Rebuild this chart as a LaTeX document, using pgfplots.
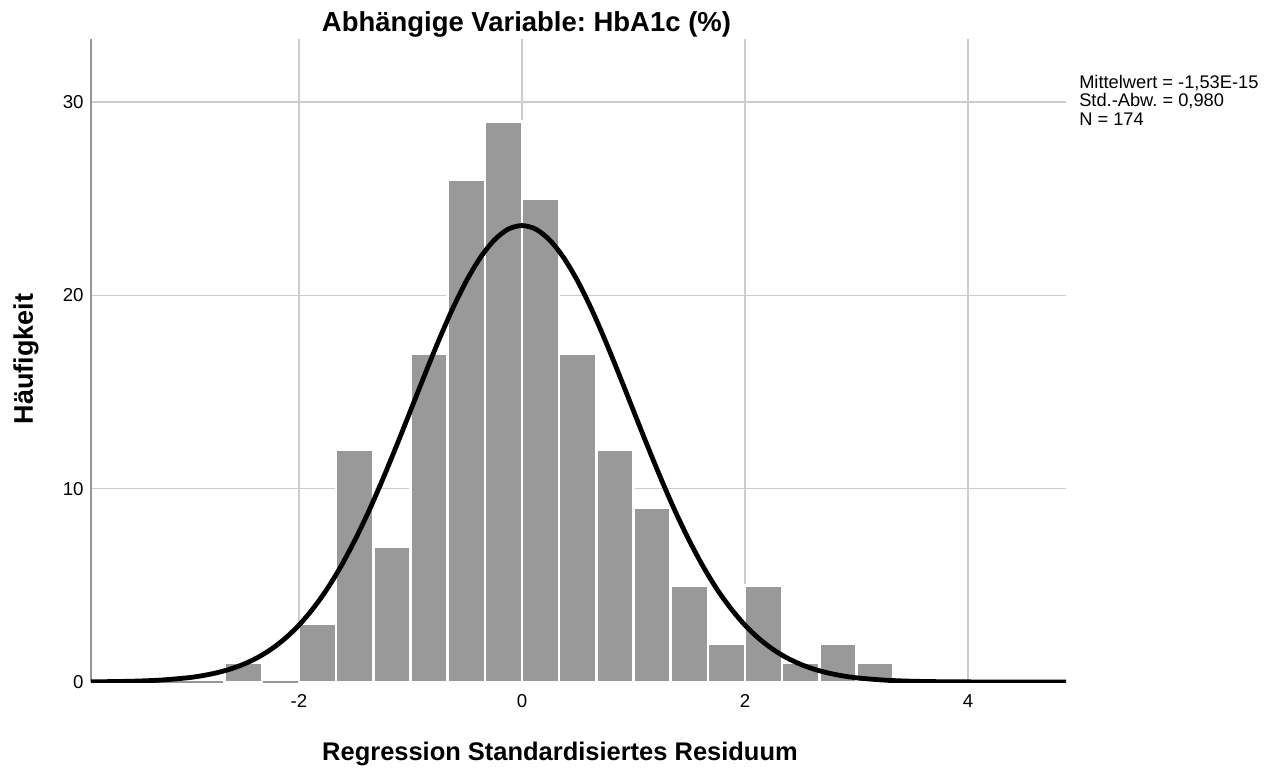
\documentclass[border=0pt]{standalone}
\usepackage{pgfplots}
\pgfplotsset{compat=1.18}
\usepackage{fontspec}
\setmainfont{Liberation Sans}
\frenchspacing
\definecolor{bargray}{RGB}{153,153,153}
\definecolor{gridgray}{RGB}{204,204,204}
\definecolor{axgray}{RGB}{150,150,150}
\begin{document}
\begin{tikzpicture}
\path[use as bounding box] (-68.25pt,-65.25pt) rectangle (887.25pt,511.5pt);
\begin{axis}[
  at={(0,0)}, anchor=south west,
  scale only axis, width=731.25pt, height=482.25pt,
  xmin=-3.865, xmax=4.879, ymin=0, ymax=33.26,
  axis x line*=bottom, axis y line*=left,
  axis line style={draw=axgray, line width=1.5pt, -},
  xtick={-2,0,2,4}, ytick={0,10,20,30},
  major tick length=0pt,
  grid=major,
  major grid style={draw=gridgray, line width=1.1pt},
  /pgf/number format/assume math mode=true,
  tick label style={font=\fontsize{14}{16}\selectfont, text=black},
  xticklabel style={yshift=-6pt},
  yticklabel style={xshift=-2pt},
  clip=true,
]
\addplot[ybar, bar width=0.33333, bar shift=0pt, fill=bargray, draw=white, line width=1.9pt] coordinates {
(-2.5,1) (-1.8333,3) (-1.5,12) (-1.1667,7) (-0.8333,17) (-0.5,26) (-0.1667,29)
(0.1667,25) (0.5,17) (0.8333,12) (1.1667,9) (1.5,5) (1.8333,2) (2.1667,5)
(2.5,1) (2.8333,2) (3.1667,1)
};
\addplot[smooth, black, line width=3.6pt] coordinates {
(-3.865,0.010) (-3.75,0.016) (-3.5,0.040) (-3.25,0.097) (-3.0,0.218)
(-2.875,0.319) (-2.75,0.461) (-2.625,0.653) (-2.5,0.912) (-2.375,1.252)
(-2.25,1.692) (-2.125,2.25) (-2.0,2.94) (-1.875,3.79) (-1.75,4.79)
(-1.625,5.97) (-1.5,7.32) (-1.375,8.82) (-1.25,10.47) (-1.125,12.22)
(-1.0,14.03) (-0.875,15.85) (-0.75,17.62) (-0.625,19.27) (-0.5,20.73)
(-0.375,21.94) (-0.25,22.85) (-0.125,23.42) (0,23.61)
(0.125,23.42) (0.25,22.85) (0.375,21.94) (0.5,20.73) (0.625,19.27)
(0.75,17.62) (0.875,15.85) (1.0,14.03) (1.125,12.22) (1.25,10.47)
(1.375,8.82) (1.5,7.32) (1.625,5.97) (1.75,4.79) (1.875,3.79)
(2.0,2.94) (2.125,2.25) (2.25,1.692) (2.375,1.252) (2.5,0.912)
(2.625,0.653) (2.75,0.461) (2.875,0.319) (3.0,0.218) (3.25,0.097)
(3.5,0.040) (3.75,0.016) (4.0,0.006) (4.5,0.0006) (4.879,0.0)
};
\end{axis}
\node[anchor=base, font=\bfseries\fontsize{20.6}{23}\selectfont, inner sep=0pt] at (326.6pt,487.5pt) {Abhängige Variable: HbA1c (\%)};
\node[anchor=base, font=\bfseries\fontsize{19.1}{22}\selectfont, inner sep=0pt] at (351.75pt,-58.5pt) {Regression Standardisiertes Residuum};
\node[anchor=base, rotate=90, font=\bfseries\fontsize{20.2}{22}\selectfont, inner sep=0pt] at (-43.5pt,242.25pt) {Häufigkeit};
\node[anchor=base west, font=\fontsize{13.7}{16}\selectfont, inner sep=0pt] at (741pt,445.1pt) {Mittelwert = -1,53E-15};
\node[anchor=base west, font=\fontsize{13.7}{16}\selectfont, inner sep=0pt] at (741pt,431.4pt) {Std.-Abw. = 0,980};
\node[anchor=base west, font=\fontsize{13.7}{16}\selectfont, inner sep=0pt] at (741pt,417.7pt) {N = 174};
\end{tikzpicture}
\end{document}
